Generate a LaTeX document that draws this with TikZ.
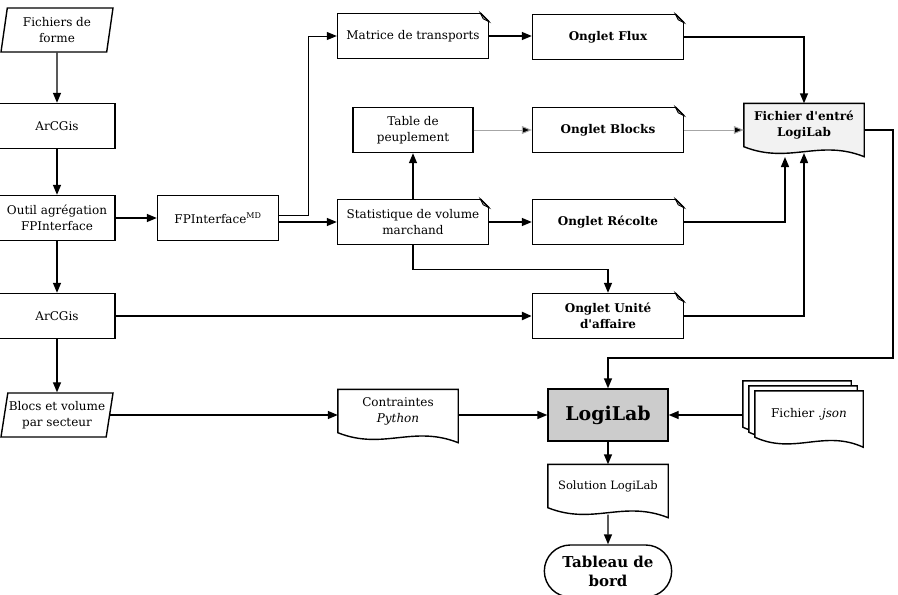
\documentclass[tikz,border=0pt]{standalone}
\usepackage{fontspec}
\setmainfont{DejaVu Serif}[Ligatures=TeXOff]
\usetikzlibrary{arrows.meta,shapes.geometric,shapes.misc,backgrounds}
\tikzset{
>={Triangle[length=10pt,width=8pt]},
ARC/.style ={draw=black,line join=miter,line width=1.4pt},
LINK/.style ={ARC,->},
THICKLINK/.style ={ARC,->,line width=2.4pt},
GRAYLINK/.style ={draw=gray!70,line width=1pt,->,>={Triangle[length=10pt,width=8pt,fill=black]}},
BOX/.style={ARC,fill=white,rectangle,minimum width=#1,minimum height=45pt,align=center,inner sep=2pt,font=\fontsize{12}{16}\selectfont},
BOX/.default = 116pt,
NOTE/.style={BOX=151pt},
DOC/.style={rectangle,minimum width=120pt,minimum height=43pt,align=center,inner sep=2pt,font=\fontsize{12}{16}\selectfont},
DATA/.style={ARC,fill=white,trapezium,trapezium left angle=77,trapezium right angle=103,trapezium stretches body=true,minimum width=112pt,minimum height=44pt,align=center,inner sep=1pt,font=\fontsize{12}{16}\selectfont},
TERM/.style={ARC,fill=white,rounded rectangle,minimum width=134pt,minimum height=52pt,align=center,font=\fontsize{15}{19}\selectfont\bfseries},
}

\begin{document}
\begin{tikzpicture}[x=1pt,y=-1pt] %chaine LogiLab
	\useasboundingbox (0,0) rectangle (898,595);
	\node[DATA] (forme) at (57,30) {Fichiers de\\forme};
	\node[BOX] (arcgis1) at (57,126) {ArCGis};
	\node[BOX] (outil) at (57,218) {Outil agrégation\\FPInterface};
	\node[BOX] (arcgis2) at (57,316) {ArCGis};
	\node[DATA] (blocs) at (57,415) {Blocs et volume\\par secteur};
	\node[BOX=121pt] (fpi) at (218,218) {FPInterface\textsuperscript{MD}};
	\node[NOTE] (matrice) at (413,36) {Matrice de transports};
	\node[BOX=120pt] (table) at (413,130) {Table de\\peuplement};
	\node[NOTE] (stat) at (413,222) {Statistique de volume\\marchand};
	\node[NOTE,font=\fontsize{12}{16}\selectfont\bfseries] (flux) at (608,37) {Onglet Flux};
	\node[NOTE,font=\fontsize{12}{16}\selectfont\bfseries] (blocks) at (608,130) {Onglet Blocks};
	\node[NOTE,font=\fontsize{12}{16}\selectfont\bfseries] (recolte) at (608,222) {Onglet Récolte};
	\node[NOTE,font=\fontsize{12}{16}\selectfont\bfseries] (unite) at (608,316) {Onglet Unité\\d'affaire};
	\node[DOC,font=\fontsize{12}{16}\selectfont\bfseries] (fichier) at (804,125) {Fichier d'entré\\LogiLab};
	\node[DOC] (contr) at (398,411) {Contraintes\\\textit{Python}};
	\node[BOX=120pt,minimum height=52pt,fill=gray!40,font=\fontsize{19}{22}\selectfont\bfseries] (logilab) at (608,415) {LogiLab};
	\node[DOC,minimum width=108pt,minimum height=46pt] (json2) at (797,404) {};
	\node[DOC,minimum width=108pt,minimum height=46pt] (json1) at (803,409) {};
	\node[DOC,minimum width=108pt,minimum height=46pt] (json) at (809,414) {Fichier \textit{.json}};
	\node[DOC,font=\fontsize{11.5}{15}\selectfont] (sol) at (608,486) {Solution LogiLab};
	\node[TERM] (tableau) at (608,571) {Tableau de\\bord};
	\coordinate (fin1) at (785,157);
	\coordinate (fin2) at (804,153);
	\coordinate (coin) at (893,358);

	% documents a bas ondule
	\begin{scope}[on background layer]
	\foreach \n/\c in {fichier/gray!10, contr/white, sol/white, json2/white, json1/white, json/white}
		\path[ARC,fill=\c] (\n.south west) -- (\n.north west) -- (\n.north east) -- ([yshift=-10pt]\n.south east) .. controls ([xshift=15pt,yshift=8pt]\n.south) and ([xshift=-15pt,yshift=-18pt]\n.south) .. (\n.south west) -- cycle;
	\end{scope}

	% coins plies
	\foreach \n in {matrice,stat,flux,blocks,recolte,unite} {
		\fill[white] ([xshift=-9pt,yshift=1pt]\n.north east) -- ([xshift=1pt,yshift=1pt]\n.north east) -- ([xshift=1pt,yshift=-9pt]\n.north east) -- cycle;
		\path[ARC,line width=0.8pt,fill=gray!50] ([xshift=-9pt]\n.north east) -- ([yshift=-9pt]\n.north east) -- ([xshift=-6pt,yshift=-6pt]\n.north east) -- cycle;
		\path[ARC] ([xshift=-9pt]\n.north east) -- ([yshift=-9pt]\n.north east);
	}

	\path[LINK] (forme) -- (arcgis1);
	\path[LINK] (arcgis1) -- (outil);
	\path[LINK] (outil) -- (arcgis2);
	\path[LINK] (arcgis2) -- (blocs);
	\path[LINK] (outil) -- (fpi);
	\path[ARC,line width=1pt,->] ([yshift=3pt]fpi.east) -- ++(29,0) |- (matrice.west);
	\path[LINK] (fpi.east |- stat) -- (stat);
	\path[LINK] (matrice.east) -- (matrice.east -| flux.west);
	\path[LINK] (flux.east) -| (fichier.north);
	\path[LINK] (stat) -- (table);
	\path[GRAYLINK] (table) -- (blocks);
	\path[GRAYLINK] (blocks.east) -- (blocks.east -| fichier.west);
	\path[LINK] (stat) -- (recolte);
	\path[LINK] (recolte.east) -| (fin1);
	\path[LINK] (stat.south) -- ++(0,24) -| (unite.north);
	\path[THICKLINK] (arcgis2) -- (unite);
	\path[LINK] (unite.east) -| (fin2);
	\path[LINK] ([yshift=-5pt]fichier.east) -| (coin) -| (logilab.north);
	\path[LINK] (blocs.east) -- (blocs.east -| contr.west);
	\path[LINK] (contr.east |- logilab) -- (logilab);
	\path[LINK] (json2.west |- logilab) -- (logilab);
	\path[LINK] (logilab) -- (sol);
	\path[LINK] ([yshift=-7pt]sol.south) -- (tableau);
\end{tikzpicture}
\end{document}
